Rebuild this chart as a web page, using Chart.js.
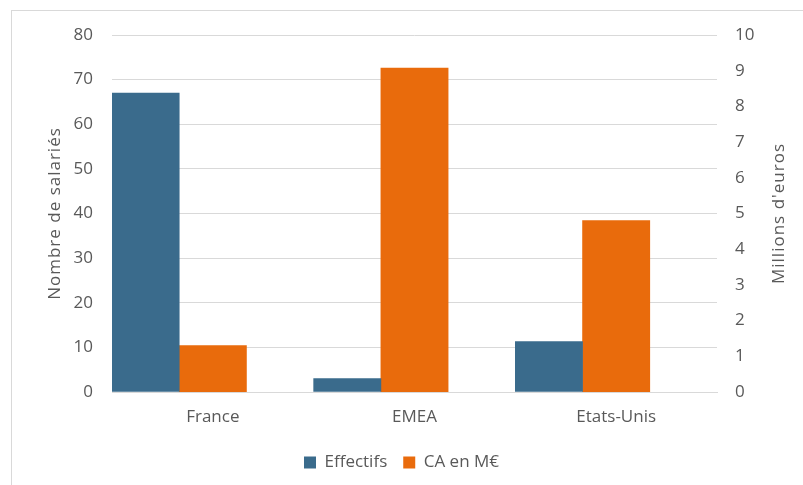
<!DOCTYPE html>
<html lang="fr">
<head>
  <meta charset="UTF-8">
  <title>Effectifs et CA par zone</title>
  <script src="https://cdn.jsdelivr.net/npm/chart.js"></script>
  <style>
    html, body { margin: 0; background: #fff; overflow: hidden; }
    .frame { position: absolute; left: 11px; top: 10px; width: 900px; height: 600px; border: 1px solid #d9d9d9; }
    .chart-box { position: absolute; left: 0; top: 0; width: 803px; height: 485px; }
  </style>
</head>
<body>
  <div class="frame"></div>
  <div class="chart-box"><canvas id="chart"></canvas></div>

  <script>
    // data
    const zones = ['France', 'EMEA', 'Etats-Unis'];
    const effectifs = [67, 3, 11.3];
    const caMillions = [1.3, 9.07, 4.8];
    const leftTicks = [0, 10, 20, 30, 40, 50, 60, 70, 80];
    const rightTicks = [0, 1, 2, 3, 4, 5, 6, 7, 8, 9, 10];

    const grey = '#595959';
    const tickFont = { family: 'Open Sans', size: 17 };
    const labelFont = { family: 'Open Sans', size: 17 };

    // axis titles drawn by hand: the right one reads bottom-to-top like the left one
    const axisTitles = {
      id: 'axisTitles',
      afterDraw(chart) {
        const ctx = chart.ctx;
        const midY = (chart.chartArea.top + chart.chartArea.bottom) / 2;
        const draw = (text, x) => {
          ctx.save();
          ctx.translate(x, midY);
          ctx.rotate(-Math.PI / 2);
          ctx.fillStyle = grey;
          ctx.font = '17px "Open Sans"';
          ctx.letterSpacing = '1px';
          ctx.textAlign = 'center';
          ctx.textBaseline = 'middle';
          ctx.fillText(text, 0, 0);
          ctx.restore();
        };
        draw('Nombre de salariés', chart.scales.y.left + 55);
        draw("Millions d'euros", chart.scales.y1.right - 24);
      }
    };

    new Chart(document.getElementById('chart'), {
      type: 'bar',
      data: {
        labels: zones,
        datasets: [
          { label: 'Effectifs', data: effectifs, yAxisID: 'y', backgroundColor: '#3a6b8c' },
          { label: 'CA en M€', data: caMillions, yAxisID: 'y1', backgroundColor: '#e96b0c' },
          // empty slot, like the blank series in the original
          { label: '', data: [null, null, null], yAxisID: 'y', backgroundColor: 'transparent' }
        ]
      },
      options: {
        responsive: true,
        maintainAspectRatio: false,
        animation: false,
        categoryPercentage: 1,
        barPercentage: 1,
        layout: { padding: { top: 35, bottom: 4, left: 0, right: 0 } },
        plugins: {
          tooltip: { enabled: false },
          legend: {
            position: 'bottom',
            labels: {
              color: grey,
              font: labelFont,
              boxWidth: 12,
              boxHeight: 12,
              padding: 16,
              filter: item => item.text !== ''
            }
          }
        },
        scales: {
          x: {
            grid: { display: false, drawTicks: false },
            border: { color: '#d9d9d9' },
            ticks: { color: grey, font: labelFont, padding: 15 },
            afterFit: s => { s.height = 46; }
          },
          y: {
            position: 'left',
            min: 0,
            max: 80,
            afterBuildTicks: s => { s.ticks = leftTicks.map(v => ({ value: v })); },
            grid: { color: '#d9d9d9', drawTicks: false },
            border: { display: false },
            ticks: { color: grey, font: tickFont, padding: 19 },
            afterFit: s => { s.width = 112; }
          },
          y1: {
            position: 'right',
            min: 0,
            max: 10,
            afterBuildTicks: s => { s.ticks = rightTicks.map(v => ({ value: v })); },
            grid: { display: false, drawTicks: false },
            border: { display: false },
            ticks: { color: grey, font: tickFont, padding: 18 },
            afterFit: s => { s.width = 86; }
          }
        }
      },
      plugins: [axisTitles]
    });
  </script>
</body>
</html>
